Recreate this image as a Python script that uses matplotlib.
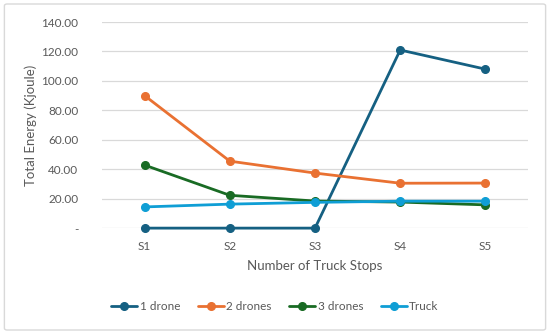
import matplotlib
matplotlib.use("Agg")
import matplotlib.pyplot as plt
from matplotlib.patches import FancyBboxPatch

categories = ["S1", "S2", "S3", "S4", "S5"]
one_drone = [0.0, 0.0, 0.0, 121.0, 108.0]
two_drones = [90.0, 45.5, 37.4, 30.5, 30.6]
three_drones = [42.8, 22.3, 18.4, 17.7, 15.8]
truck = [14.4, 16.3, 17.5, 18.3, 18.3]
series_names = ["1 drone", "2 drones", "3 drones", "Truck"]
yticks = [0, 20, 40, 60, 80, 100, 120, 140]

colors = ["#156082", "#E97132", "#196B24", "#0F9ED5"]
text_color = "#595959"
plt.rcParams['font.family'] = ['Lato', 'DejaVu Sans']

fig = plt.figure(figsize=(5.5, 3.34), dpi=100)
fig.patch.set_facecolor("white")
border = FancyBboxPatch((0.008, 0.012), 0.984, 0.976, boxstyle="round,pad=0,rounding_size=0.005",
                        transform=fig.transFigure, facecolor="none", edgecolor="#D9D9D9",
                        lw=1.0, zorder=10)
fig.patches.append(border)

ax = fig.add_axes([0.1855, 0.317, 0.7745, 0.617])
x = list(range(len(categories)))
for data, name, c in zip([one_drone, two_drones, three_drones, truck], series_names, colors):
    ax.plot(x, data, color=c, lw=2.0, marker="o", markersize=5.5, label=name,
            solid_capstyle="round", zorder=3, clip_on=False)

ax.set_xlim(-0.5, len(categories) - 0.5)
ax.set_ylim(0, 140)
ax.set_yticks(yticks)
ax.set_yticklabels(["-" if v == 0 else f"{v:.2f}" for v in yticks])
ax.set_xticks(x)
ax.set_xticklabels(categories)
ax.tick_params(axis="both", length=0, colors=text_color, labelsize=8.5)
ax.tick_params(axis="y", pad=17)
ax.tick_params(axis="x", pad=9)
for s in ax.spines.values():
    s.set_visible(False)
ax.grid(axis="y", color="#D9D9D9", lw=0.9)
ax.set_axisbelow(True)
ax.set_xlabel("Number of Truck Stops", color=text_color, fontsize=9.5, labelpad=6)
ax.set_ylabel("Total Energy (Kjoule)", color=text_color, fontsize=9.5, labelpad=3)

leg = fig.legend(loc="center", bbox_to_anchor=(0.5, 0.083), ncol=4, frameon=False,
                 fontsize=8.5, handlelength=2.2, handletextpad=0.2, columnspacing=1.5,
                 labelcolor=text_color)

fig.savefig("out.png", dpi=100)
